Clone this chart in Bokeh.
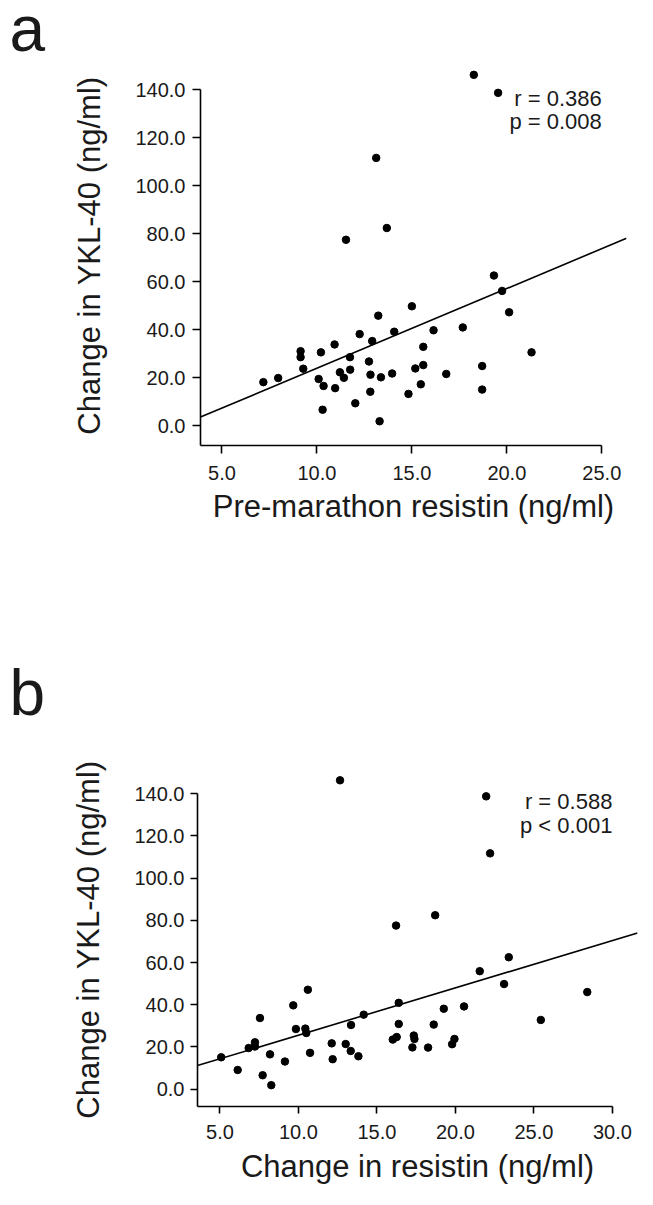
from bokeh.plotting import figure
from bokeh.models import FixedTicker, Label, Range1d
from bokeh.layouts import column
from bokeh.embed import file_html
from bokeh.resources import INLINE

# ---------------- data ----------------
# panel a: pre-marathon resistin vs change in YKL-40
pre_resistin_a = [18.26, 19.54, 13.12, 13.68, 11.53, 19.32, 19.75, 20.12, 15.00, 13.23,
                  17.68, 16.14, 14.07, 12.25, 12.91, 10.93, 15.60, 9.14, 9.14, 10.21,
                  11.74, 21.30, 12.74, 15.60, 18.70, 9.28, 11.75, 15.18, 11.21, 12.82,
                  13.96, 16.81, 11.42, 13.37, 7.96, 7.18, 10.09, 10.35, 15.47, 10.96,
                  18.70, 12.81, 14.82, 12.02, 10.30, 13.30]
ykl_change_a = [146.1, 138.6, 111.5, 82.3, 77.4, 62.5, 56.1, 47.2, 49.7, 45.8,
                40.9, 39.7, 39.1, 38.1, 35.2, 33.8, 32.8, 31.0, 28.5, 30.5,
                28.5, 30.5, 26.7, 25.2, 24.8, 23.7, 23.3, 23.8, 22.2, 21.2,
                21.7, 21.5, 19.9, 20.1, 19.8, 18.1, 19.4, 16.5, 17.2, 15.6,
                15.0, 14.1, 13.2, 9.3, 6.6, 1.8]
fit_slope_a = 3.32
fit_intercept_a = -9.3
stats_a = ["r = 0.386", "p = 0.008"]

# panel b: change in resistin vs change in YKL-40
delta_resistin_b = [12.65, 21.96, 22.21, 18.71, 16.22, 23.40, 21.55, 23.10, 10.60, 28.40,
                    9.67, 16.39, 20.55, 19.26, 14.16, 7.55, 25.44, 13.35, 16.39, 18.62,
                    9.84, 10.44, 10.50, 17.35, 17.39, 16.26, 16.01, 19.94, 19.79, 7.23,
                    7.23, 6.83, 12.12, 13.01, 17.26, 18.26, 13.33, 13.82, 8.19, 10.74,
                    5.08, 12.18, 9.14, 6.13, 7.72, 8.27]
ykl_change_b = [146.3, 138.7, 111.7, 82.4, 77.5, 62.5, 55.9, 49.8, 47.1, 46.0,
                39.7, 40.9, 39.2, 38.1, 35.3, 33.7, 32.8, 30.4, 30.9, 30.6,
                28.5, 28.7, 26.6, 25.4, 23.8, 24.7, 23.5, 23.8, 21.3, 22.2,
                20.2, 19.5, 21.7, 21.4, 19.8, 19.7, 18.1, 15.6, 16.5, 17.2,
                15.1, 14.2, 13.1, 9.1, 6.6, 1.9]
fit_slope_b = 2.24
fit_intercept_b = 3.18
stats_b = ["r = 0.588", "p < 0.001"]

x_ticks_a = [5.0, 10.0, 15.0, 20.0, 25.0]
x_tick_labels_a = ["5.0", "10.0", "15.0", "20.0", "25.0"]
x_ticks_b = [5.0, 10.0, 15.0, 20.0, 25.0, 30.0]
x_tick_labels_b = ["5.0", "10.0", "15.0", "20.0", "25.0", "30.0"]
y_ticks = [0.0, 20.0, 40.0, 60.0, 80.0, 100.0, 120.0, 140.0]
y_tick_labels = ["0.0", "20.0", "40.0", "60.0", "80.0", "100.0", "120.0", "140.0"]

x_label_a = "Pre-marathon resistin (ng/ml)"
x_label_b = "Change in resistin (ng/ml)"
y_label = "Change in YKL-40 (ng/ml)"
panel_letters = ["a", "b"]

FONT = "Liberation Sans"
INK = "#1a1a1a"
W = 645


def letter_fig(letter, height, baseline_from_bottom, size):
    f = figure(width=W, height=height, output_backend="svg", toolbar_location=None,
               x_range=Range1d(0, W), y_range=Range1d(0, height),
               x_axis_location=None, y_axis_location=None, frame_align=False,
               min_border_left=0, min_border_right=0, min_border_top=0, min_border_bottom=0)
    f.title.visible = False
    f.xgrid.visible = False
    f.ygrid.visible = False
    f.outline_line_color = None
    f.add_layout(Label(x=9, y=baseline_from_bottom, text=letter,
                       text_font=FONT, text_font_size=size, text_color=INK,
                       text_align="left", text_baseline="alphabetic"))
    return f


def make_panel(xs, ys, slope, intercept, stats, xt, xtl, xlabel,
               height, bl, br, bt, bb, xr, yr, xbound_end, ybound,
               x_tick_standoff, x_label_standoff, tick_out_x, tick_out_y, y_tick_standoff,
               stats_pos):
    p = figure(width=W, height=height, output_backend="svg", toolbar_location=None,
               x_range=Range1d(*xr), y_range=Range1d(*yr), frame_align=False,
               min_border_left=bl, min_border_right=br,
               min_border_top=bt, min_border_bottom=bb)
    p.outline_line_color = None
    p.xgrid.visible = False
    p.ygrid.visible = False
    p.background_fill_color = "white"
    p.border_fill_color = "white"

    # regression line across the frame
    x0, x1 = xr
    p.line([x0, x1], [slope * x0 + intercept, slope * x1 + intercept],
           line_color="black", line_width=1.6)
    p.scatter(xs, ys, size=7.5, color="black")

    for ax, ticks, labels, bounds, out, stand in (
            (p.xaxis[0], xt, xtl, (xr[0], xbound_end), tick_out_x, x_tick_standoff),
            (p.yaxis[0], y_ticks, y_tick_labels, ybound, tick_out_y, y_tick_standoff)):
        ax.ticker = FixedTicker(ticks=ticks)
        ax.major_label_overrides = {t: l for t, l in zip(ticks, labels)}
        ax.bounds = bounds
        ax.axis_line_width = 1.6
        ax.axis_line_color = "black"
        ax.major_tick_line_width = 1.6
        ax.major_tick_line_color = "black"
        ax.major_tick_out = out
        ax.major_tick_in = 0
        ax.minor_tick_out = 0
        ax.minor_tick_in = 0
        ax.major_label_text_font = FONT
        ax.major_label_text_font_size = "20px"
        ax.major_label_text_color = INK
        ax.major_label_standoff = stand
        ax.axis_label_text_font = FONT
        ax.axis_label_text_font_size = "31px"
        ax.axis_label_text_font_style = "normal"
        ax.axis_label_text_color = INK

    p.xaxis.axis_label = xlabel
    p.xaxis.axis_label_standoff = x_label_standoff
    p.yaxis.axis_label = y_label
    p.yaxis.axis_label_standoff = 25

    for text, yv in ((stats[0], stats_pos[1]), (stats[1], stats_pos[2])):
        p.add_layout(Label(x=stats_pos[0], y=yv, text=text,
                           text_font=FONT, text_font_size="22px", text_color=INK,
                           text_align="right", text_baseline="middle"))
    return p


la = letter_fig(panel_letters[0], height=62, baseline_from_bottom=34, size="64px")

pa = make_panel(pre_resistin_a, ykl_change_a, fit_slope_a, fit_intercept_a, stats_a,
                x_ticks_a, x_tick_labels_a, x_label_a,
                height=506, bl=200, br=19, bt=3, bb=123,
                xr=(3.87, 26.3), yr=(-8.3, 150), xbound_end=25, ybound=(-8.3, 140),
                x_tick_standoff=12, x_label_standoff=6, tick_out_x=8, tick_out_y=8,
                y_tick_standoff=7,
                stats_pos=(25, 136.3, 126.5))

lb = letter_fig(panel_letters[1], height=190, baseline_from_bottom=66, size="64px")

pb = make_panel(delta_resistin_b, ykl_change_b, fit_slope_b, fit_intercept_b, stats_b,
                x_ticks_b, x_tick_labels_b, x_label_b,
                height=431, bl=197, br=8, bt=14, bb=83,
                xr=(3.57, 31.6), yr=(-8.2, 150), xbound_end=30, ybound=(-8.2, 140),
                x_tick_standoff=11, x_label_standoff=7, tick_out_x=7, tick_out_y=7,
                y_tick_standoff=6,
                stats_pos=(30, 136.4, 124.8))

layout = column(la, pa, lb, pb, spacing=0)
open("out.html", "w").write(file_html(layout, INLINE))
